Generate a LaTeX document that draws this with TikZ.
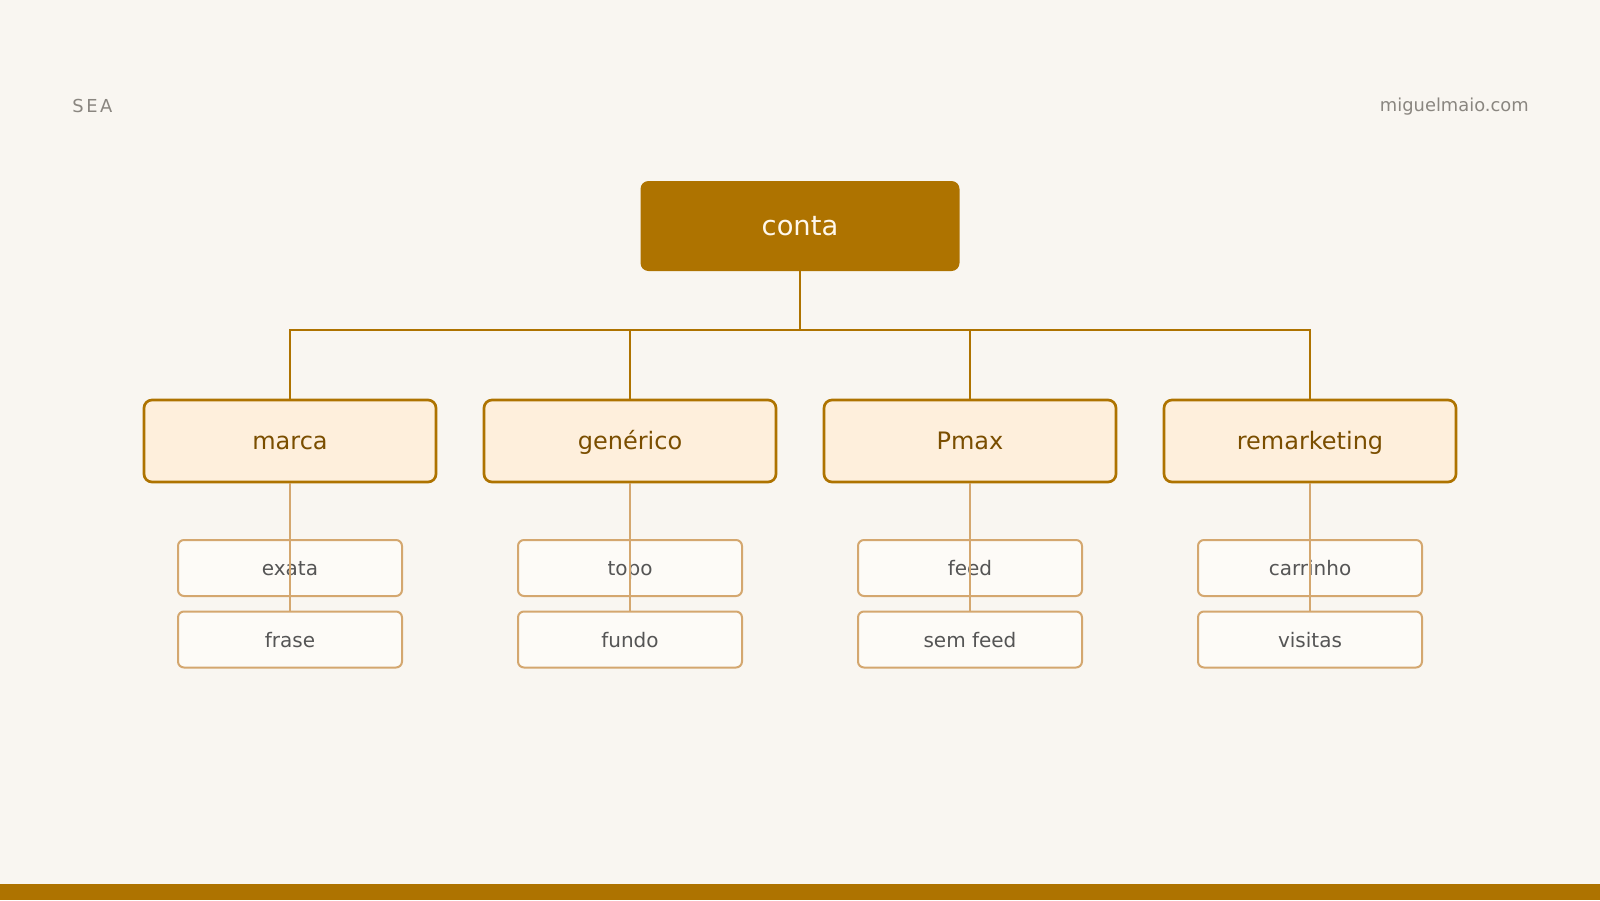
\documentclass[tikz,border=0pt]{standalone}
\usepackage{fontspec}
\setmainfont{DejaVu Sans}
\definecolor{bg}{HTML}{F9F6F1}
\definecolor{gold}{HTML}{AE7300}
\definecolor{midfill}{HTML}{FEEFDC}
\definecolor{midtext}{HTML}{7A4E00}
\definecolor{leafline}{HTML}{D4A76F}
\definecolor{leaffill}{HTML}{FDFBF7}
\definecolor{leaftext}{HTML}{555555}
\definecolor{headtext}{HTML}{8A8680}
\definecolor{contatext}{HTML}{FFF8EC}
\tikzset{
  rootbox/.style={inner sep=0pt, text height=16.3pt, text depth=2.6pt, fill=gold, draw=none, rounded corners=6pt, minimum width=239.25pt, minimum height=67.5pt, text=contatext, font=\fontsize{20.5}{24}\selectfont},
  midbox/.style={inner sep=0pt, text height=14.5pt, text depth=2.1pt, fill=midfill, draw=gold, line width=2pt, rounded corners=6pt, minimum width=219pt, minimum height=61.5pt, text=midtext, font=\fontsize{18}{21}\selectfont},
  leafbox/.style={inner sep=0pt, text height=12.7pt, text depth=1.1pt, fill=leaffill, draw=leafline, line width=1.5pt, rounded corners=4.5pt, minimum width=168pt, minimum height=42pt, text=leaftext, font=\fontsize{15}{17}\selectfont},
  mainlink/.style={draw=gold, line width=2.2pt},
  leaflink/.style={draw=leafline, line width=1.5pt},
  headlabel/.style={text=headtext, font=\fontsize{13.4}{16}\selectfont, inner sep=0pt}
}
\begin{document}
\begin{tikzpicture}[x=0.75pt,y=-0.75pt]
\fill[bg] (0,0) rectangle (1600,900);
\useasboundingbox (0,0) rectangle (1600,900);
\fill[gold] (0,884) rectangle (1600,900);
\node[headlabel, anchor=west] (sea) at (72,106) {S\kern2pt E\kern2pt A};
\node[headlabel, anchor=east] (site) at (1529,107) {miguelmaio.com};
\node[rootbox] (conta) at (800,226) {conta};
\coordinate (bus) at (800,330);
\foreach \x/\n/\t/\a/\b in {290/m1/marca/exata/frase, 630/m2/genérico/topo/fundo, 970/m3/Pmax/feed/sem feed, 1310/m4/remarketing/carrinho/visitas}{
  \node[midbox] (\n) at (\x,441) {\t};
  \node[leafbox] (\n a) at (\x,568) {\a};
  \node[leafbox] (\n b) at (\x,639.5) {\b};
  \draw[mainlink] (\n.north) |- (bus);
  \draw[leaflink] (\n.south) -- (\n b.north);
}
\draw[mainlink] (conta.south) -- (bus);
\end{tikzpicture}
\end{document}
